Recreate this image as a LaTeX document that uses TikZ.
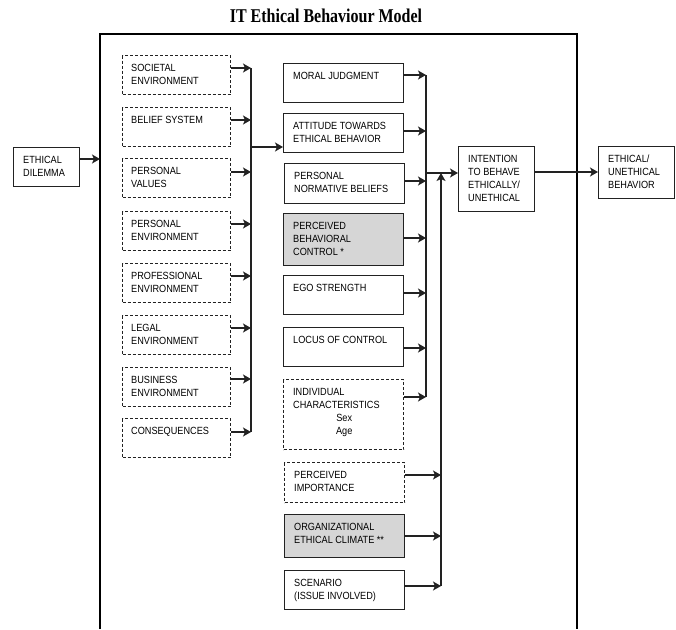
\documentclass[tikz,border=0pt]{standalone}
\usepackage{fontspec}
\setmainfont[FakeStretch=0.88]{Liberation Sans}
\newfontfamily\titlefont[FakeStretch=0.82]{Liberation Serif}
\usetikzlibrary{arrows.meta}
\definecolor{linec}{HTML}{222222}
\definecolor{boxgray}{HTML}{D6D6D6}
\tikzset{
 solidbox/.style={draw=linec, line width=1.3pt, inner sep=0pt, anchor=north west},
 dashbox/.style={solidbox, dash pattern=on 3pt off 2pt},
 graybox/.style={solidbox, fill=boxgray},
 txt/.style={inner sep=0pt, anchor=base west, font=\fontsize{10.4}{13.3}\selectfont, text=black},
 arr/.style={draw=linec, line width=1.2pt, -{Stealth[length=8pt,width=9pt,inset=2pt]}},
 bus/.style={draw=linec, line width=1.2pt},
 frame/.style={draw=black, line width=1.8pt},
}
\newcommand{\mybox}[8]{%
 \node[#6, minimum width={(#4-#2)*1pt}, minimum height={(#5-#3)*1pt}] (#1) at (#2,#3) {};
 \node[txt] (#1-t) at ([xshift=#7pt,yshift=-16pt]#1.north west) {\begin{tabular}[t]{@{}l@{}}#8\end{tabular}};
}
\begin{document}
\begin{tikzpicture}[x=1pt,y=-1pt]
\useasboundingbox (0,0) rectangle (676,629);
\node[font=\titlefont\bfseries\fontsize{19.5}{20}\selectfont, anchor=base, inner sep=0pt] (title) at (326,22) {IT Ethical Behaviour Model};
\draw[frame] (100,629) -- (100,34) -- (577,34) -- (577,629);
% left
\mybox{dil}{13}{147}{79}{186}{solidbox}{10}{ETHICAL\\DILEMMA}
\mybox{soc}{122}{55}{230}{94}{dashbox}{9}{SOCIETAL\\ENVIRONMENT}
\mybox{bel}{122}{107}{230}{146}{dashbox}{9}{BELIEF SYSTEM}
\mybox{val}{122}{158}{230}{197}{dashbox}{9}{PERSONAL\\VALUES}
\mybox{penv}{122}{211}{230}{250}{dashbox}{9}{PERSONAL\\ENVIRONMENT}
\mybox{prof}{122}{263}{230}{302}{dashbox}{9}{PROFESSIONAL\\ENVIRONMENT}
\mybox{leg}{122}{315}{230}{354}{dashbox}{9}{LEGAL\\ENVIRONMENT}
\mybox{bus}{122}{367}{230}{406}{dashbox}{9}{BUSINESS\\ENVIRONMENT}
\mybox{con}{122}{418}{230}{457}{dashbox}{9}{CONSEQUENCES}
% middle
\mybox{moral}{283}{63}{403}{102}{solidbox}{10}{MORAL JUDGMENT}
\mybox{att}{283}{113}{403}{152}{solidbox}{10}{ATTITUDE TOWARDS\\ETHICAL BEHAVIOR}
\mybox{norm}{284}{163}{404}{203}{solidbox}{10}{PERSONAL\\NORMATIVE BELIEFS}
\mybox{pbc}{283}{213}{403}{265}{graybox}{10}{PERCEIVED\\BEHAVIORAL\\CONTROL *}
\mybox{ego}{283}{275}{403}{314}{solidbox}{10}{EGO STRENGTH}
\mybox{loc}{283}{327}{403}{366}{solidbox}{10}{LOCUS OF CONTROL}
\mybox{ind}{283}{379}{403}{449}{dashbox}{10}{INDIVIDUAL\\CHARACTERISTICS\\\makebox[102pt]{Sex}\\\makebox[102pt]{Age}}
\mybox{imp}{284}{462}{404}{502}{dashbox}{10}{PERCEIVED\\IMPORTANCE}
\mybox{org}{284}{514}{404}{557}{graybox}{10}{ORGANIZATIONAL\\ETHICAL CLIMATE **}
\mybox{scen}{284}{570}{404}{609}{solidbox}{10}{SCENARIO\\(ISSUE INVOLVED)}
% right
\mybox{int}{458}{146}{534}{211}{solidbox}{10}{INTENTION\\TO BEHAVE\\ETHICALLY/\\UNETHICAL}
\mybox{beh}{598}{146}{674}{198}{solidbox}{10}{ETHICAL/\\UNETHICAL\\BEHAVIOR}
% connectors
\coordinate (fr) at (100,159);
\draw[arr] (dil.east |- fr) -- (fr);
\foreach \n/\y in {soc/68,bel/120,val/172,penv/224,prof/276,leg/328,bus/379,con/432}{
  \coordinate (lb-\n) at (251,\y);
  \draw[arr] (\n.east |- lb-\n) -- (lb-\n);
}
\draw[bus] (lb-soc) -- (lb-con);
\coordinate (lb-out) at (251,147);
\draw[arr] (lb-out) -- (att.west |- lb-out);
\foreach \n/\y in {moral/75,att/131,norm/181,pbc/238,ego/293,loc/348,ind/397}{
  \coordinate (mb-\n) at (426,\y);
  \draw[arr] (\n.east |- mb-\n) -- (mb-\n);
}
\draw[bus] (mb-moral) -- (mb-ind);
\coordinate (mb-out) at (426,173);
\draw[arr] (mb-out) -- (int.west |- mb-out);
\foreach \n/\y in {imp/475,org/536,scen/586}{
  \coordinate (nb-\n) at (441,\y);
  \draw[arr] (\n.east |- nb-\n) -- (nb-\n);
}
\coordinate (nb-top) at (441,173);
\draw[arr] (nb-scen) -- (nb-top);
\coordinate (io) at (534,172);
\draw[arr] (int.east |- io) -- (beh.west |- io);
\end{tikzpicture}
\end{document}
